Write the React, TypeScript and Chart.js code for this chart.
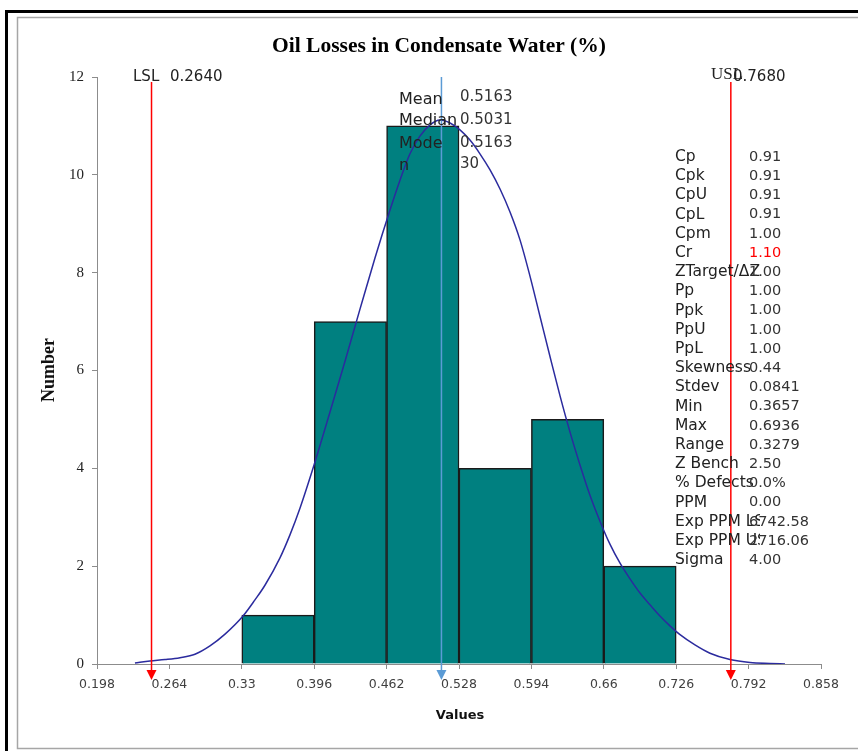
import React, { useEffect, useRef } from "react";
import { Chart, registerables } from "chart.js";

Chart.register(...registerables);

// ---- data ----
const binCenters = [0.363, 0.429, 0.495, 0.561, 0.627, 0.693];
const binCounts = [1, 7, 11, 4, 5, 2];

const curveX = [0.2326, 0.2463, 0.26, 0.2737, 0.2873, 0.301, 0.3147, 0.3311, 0.342, 0.3511, 0.3648, 0.3739, 0.3831, 0.3967, 0.4104, 0.4241, 0.4378, 0.4514, 0.4651, 0.4742, 0.4833, 0.4924, 0.5016, 0.5107, 0.5198, 0.5289, 0.538, 0.5471, 0.5563, 0.5654, 0.5745, 0.5836, 0.5927, 0.6018, 0.611, 0.6201, 0.6292, 0.6383, 0.6474, 0.6565, 0.6656, 0.6748, 0.6839, 0.693, 0.7021, 0.7112, 0.7203, 0.7295, 0.7431, 0.7568, 0.775, 0.7933, 0.8115, 0.8252];
const curveY = [0.02, 0.06, 0.09, 0.13, 0.2, 0.37, 0.61, 0.98, 1.31, 1.61, 2.17, 2.64, 3.19, 4.13, 5.15, 6.19, 7.26, 8.3, 9.28, 9.89, 10.43, 10.79, 11.02, 11.12, 11.06, 10.92, 10.71, 10.43, 10.1, 9.71, 9.24, 8.67, 7.93, 7.11, 6.28, 5.48, 4.74, 4.07, 3.45, 2.92, 2.45, 2.06, 1.74, 1.45, 1.21, 0.98, 0.78, 0.6, 0.39, 0.22, 0.09, 0.03, 0.01, 0.0];

const xTickValues = [0.198, 0.264, 0.33, 0.396, 0.462, 0.528, 0.594, 0.66, 0.726, 0.792, 0.858];
const xTickLabels = ["0.198", "0.264", "0.33", "0.396", "0.462", "0.528", "0.594", "0.66", "0.726", "0.792", "0.858"];
const yMin = 0;
const yMax = 12;
const yStep = 2;

// marker lines (positions as drawn in the picture)
const lslMarkerX = 0.2477;
const meanMarkerX = 0.512;
const uslMarkerX = 0.7758;
const lslText = "0.2640";
const uslText = "0.7680";

const summaryLabels = ["Mean", "Median", "Mode", "n"];
const summaryValues = ["0.5163", "0.5031", "0.5163", "30"];

const statLabels = ["Cp", "Cpk", "CpU", "CpL", "Cpm", "Cr", "ZTarget/ΔZ", "Pp", "Ppk", "PpU", "PpL", "Skewness", "Stdev", "Min", "Max", "Range", "Z Bench", "% Defects", "PPM", "Exp PPM LSL", "Exp PPM USL", "Sigma"];
const statValues = ["0.91", "0.91", "0.91", "0.91", "1.00", "1.10", "1.00", "1.00", "1.00", "1.00", "1.00", "0.44", "0.0841", "0.3657", "0.6936", "0.3279", "2.50", "0.0%", "0.00", "6742.58", "2716.06", "4.00"];
const highlightStat = "Cr";

const titleText = "Oil Losses in Condensate Water (%)";
const xTitle = "Values";
const yTitle = "Number";

const framePlugin = {
  id: "frame",
  beforeDraw(chart: any) {
    const { ctx, width, height } = chart;
    ctx.save();
    ctx.fillStyle = "#ffffff";
    ctx.fillRect(0, 0, width, height);
    ctx.strokeStyle = "#a6a6a6";
    ctx.lineWidth = 1.5;
    ctx.beginPath();
    ctx.moveTo(width, 17.5);
    ctx.lineTo(17.5, 17.5);
    ctx.lineTo(17.5, 748.5);
    ctx.lineTo(width, 748.5);
    ctx.stroke();
    ctx.strokeStyle = "#000000";
    ctx.lineWidth = 3;
    ctx.beginPath();
    ctx.moveTo(width, 11.5);
    ctx.lineTo(6.5, 11.5);
    ctx.lineTo(6.5, height);
    ctx.stroke();
    ctx.restore();
  },
};

function drawMarker(ctx: any, x: number, top: number, bottom: number, color: string) {
  ctx.strokeStyle = color;
  ctx.fillStyle = color;
  ctx.lineWidth = 1.5;
  ctx.beginPath();
  ctx.moveTo(x, top);
  ctx.lineTo(x, bottom + 7);
  ctx.stroke();
  ctx.beginPath();
  ctx.moveTo(x - 5, bottom + 6);
  ctx.lineTo(x + 5, bottom + 6);
  ctx.lineTo(x, bottom + 16);
  ctx.closePath();
  ctx.fill();
}

const annotationPlugin = {
  id: "annotations",
  afterDraw(chart: any) {
    const { ctx } = chart;
    const xs = chart.scales.x;
    const ys = chart.scales.y;
    const bottom = ys.getPixelForValue(0);
    ctx.save();

    // markers
    drawMarker(ctx, xs.getPixelForValue(lslMarkerX), ys.getPixelForValue(11.9), bottom, "#ff0000");
    drawMarker(ctx, xs.getPixelForValue(uslMarkerX), ys.getPixelForValue(11.9), bottom, "#ff0000");
    drawMarker(ctx, xs.getPixelForValue(meanMarkerX), ys.getPixelForValue(12), bottom, "#5b9bd5");

    // title
    ctx.fillStyle = "#000";
    ctx.textAlign = "center";
    ctx.textBaseline = "middle";
    ctx.font = 'bold 21.5px "Liberation Serif"';
    ctx.fillText(titleText, 439, 46);

    // axis titles
    ctx.font = 'bold 13px "DejaVu Sans"';
    ctx.fillStyle = "#111";
    ctx.fillText(xTitle, 460, 716);
    ctx.save();
    ctx.translate(49, 370);
    ctx.rotate(-Math.PI / 2);
    ctx.font = 'bold 18px "Liberation Serif"';
    ctx.fillText(yTitle, 0, 0);
    ctx.restore();

    // LSL / USL labels
    ctx.textAlign = "left";
    ctx.fillStyle = "#222";
    ctx.font = '15px "DejaVu Sans"';
    ctx.fillText("LSL", 133, 77);
    ctx.fillText(lslText, 170, 77);
    ctx.font = '17px "Liberation Serif"';
    ctx.fillText("USL", 711, 75);
    ctx.font = '15px "DejaVu Sans"';
    ctx.fillText(uslText, 733, 77);

    // summary block
    const labY = [100, 121, 144, 166];
    const valY = [97, 120, 143, 164];
    summaryLabels.forEach((l, i) => {
      ctx.font = '16px "DejaVu Sans"';
      ctx.fillStyle = "#222";
      ctx.fillText(l, 399, labY[i]);
      ctx.font = '15px "DejaVu Sans"';
      ctx.fillStyle = "#333";
      ctx.fillText(summaryValues[i], 460, valY[i]);
    });

    // stats table
    statLabels.forEach((l, i) => {
      const y = 157 + i * 19.2;
      ctx.save();
      ctx.beginPath();
      ctx.rect(660, y - 12, 100, 24);
      ctx.clip();
      ctx.font = '15.5px "DejaVu Sans"';
      ctx.fillStyle = "#222";
      ctx.fillText(l, 675, y);
      ctx.restore();
      ctx.font = '14.5px "DejaVu Sans"';
      ctx.fillStyle = l === highlightStat ? "#ff0000" : "#333";
      ctx.fillText(statValues[i], 749, y);
    });

    ctx.restore();
  },
};

export default function App() {
  const ref = useRef<HTMLCanvasElement | null>(null);
  useEffect(() => {
    if (!ref.current) return;
    const axisColor = "#8c8c8c";
    const chart = new Chart(ref.current, {
      type: "bar",
      data: {
        datasets: [
          {
            type: "line",
            label: "Normal",
            data: curveX.map((x, i) => ({ x, y: curveY[i] })),
            borderColor: "#2b2b9e",
            borderWidth: 1.5,
            pointRadius: 0,
            fill: false,
            cubicInterpolationMode: "monotone",
            order: 1,
          } as any,
          {
            type: "bar",
            label: "Count",
            data: binCenters.map((x, i) => ({ x, y: binCounts[i] })),
            backgroundColor: "#008080",
            borderColor: "#1a1a1a",
            borderWidth: 1.5,
            barPercentage: 1,
            categoryPercentage: 1,
            order: 2,
          } as any,
        ],
      },
      options: {
        responsive: false,
        animation: false,
        layout: { padding: { left: 57, right: 37, top: 77, bottom: 57 } },
        plugins: { legend: { display: false }, title: { display: false }, tooltip: { enabled: false } },
        scales: {
          x: {
            type: "linear",
            min: xTickValues[0],
            max: xTickValues[xTickValues.length - 1],
            offset: false,
            afterBuildTicks: (s: any) => {
              s.ticks = xTickValues.map((v) => ({ value: v }));
            },
            afterFit: (s: any) => {
              s.height = 30;
            },
            ticks: {
              callback: (_v: any, i: number) => xTickLabels[i],
              font: { family: "DejaVu Sans", size: 12.5 },
              color: "#404040",
              padding: 8,
              maxRotation: 0,
              autoSkip: false,
            },
            grid: { display: true, drawOnChartArea: false, drawTicks: true, tickLength: 5, color: axisColor, offset: false },
            border: { display: true, color: axisColor, width: 1 },
          } as any,
          y: {
            type: "linear",
            min: yMin,
            max: yMax,
            afterFit: (s: any) => {
              s.width = 40;
            },
            ticks: {
              stepSize: yStep,
              font: { family: "Liberation Serif", size: 15 },
              color: "#222",
              padding: 8,
            },
            grid: { display: true, drawOnChartArea: false, drawTicks: true, tickLength: 5, color: axisColor },
            border: { display: true, color: axisColor, width: 1 },
          } as any,
        },
      },
      plugins: [framePlugin, annotationPlugin],
    });
    return () => chart.destroy();
  }, []);
  return (
    <div style={{ position: "absolute", left: 0, top: 0, width: 858, height: 751 }}>
      <canvas ref={ref} width={858} height={751} style={{ display: "block" }} />
    </div>
  );
}
